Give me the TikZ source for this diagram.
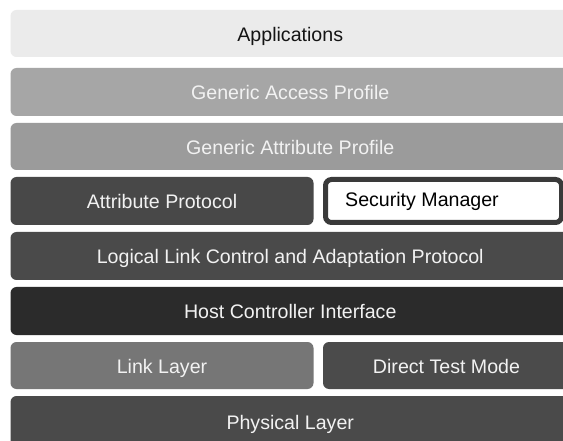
\documentclass[tikz,border=0pt]{standalone}
\usepackage{fontspec}
\setmainfont{Liberation Sans}
\definecolor{appfill}{HTML}{EBEBEB}
\definecolor{gapfill}{HTML}{A6A6A6}
\definecolor{gattfill}{HTML}{9B9B9B}
\definecolor{attfill}{HTML}{484848}
\definecolor{smborder}{HTML}{3A3A3A}
\definecolor{l2capfill}{HTML}{4A4A4A}
\definecolor{hcifill}{HTML}{2B2B2B}
\definecolor{llfill}{HTML}{767676}
\definecolor{dtmfill}{HTML}{4B4B4B}
\definecolor{phyfill}{HTML}{4A4A4A}
\definecolor{lighttext}{HTML}{F2F2F2}
\definecolor{darktext}{HTML}{141414}
\begin{document}
\begin{tikzpicture}[x=1pt,y=-1pt,
  layer/.style={rectangle, rounded corners=6pt, inner sep=0pt,
    text height=16pt, text depth=0pt,
    font=\fontsize{19.6}{22}\selectfont, text=lighttext},
  wide/.style={layer, minimum width=559.5pt},
  half/.style={layer, minimum width=303pt},
  smbox/.style={rectangle, rounded corners=6pt, fill=white, draw=smborder,
    line width=5pt, inner sep=0pt},
  labeltext/.style={font=\fontsize{19.6}{22}\selectfont, inner sep=0pt}]
\useasboundingbox (0,0) rectangle (563,441);
\clip (0,0) rectangle (563,441);
\fill[white] (0,0) rectangle (563,441);

\node[wide, fill=appfill, text=darktext, minimum height=47pt] (apps) at (290.25,33.5) {Applications};
\node[wide, fill=gapfill, minimum height=48pt] (gap) at (290.25,92) {Generic Access Profile};
\node[wide, fill=gattfill, minimum height=47pt] (gatt) at (290.25,146.5) {Generic Attribute Profile};
\node[half, fill=attfill, minimum height=48pt] (att) at (162,201) {Attribute Protocol};
\node[smbox, minimum width=236pt, minimum height=43pt] (sm) at (443.5,201) {};
\node[labeltext, text=black, anchor=base west] (smtext) at (345,207) {Security Manager};
\node[wide, fill=l2capfill, minimum height=48pt] (l2cap) at (290.25,256) {Logical Link Control and Adaptation Protocol};
\node[wide, fill=hcifill, minimum height=48pt] (hci) at (290.25,311) {Host Controller Interface};
\node[half, fill=llfill, minimum height=47pt] (ll) at (162,365.5) {Link Layer};
\node[layer, fill=dtmfill, minimum width=247pt, minimum height=47pt] (dtm) at (446.5,365.5) {Direct Test Mode};
\node[wide, fill=phyfill, minimum height=50pt] (phy) at (290.25,421) {Physical Layer};
\end{tikzpicture}
\end{document}
